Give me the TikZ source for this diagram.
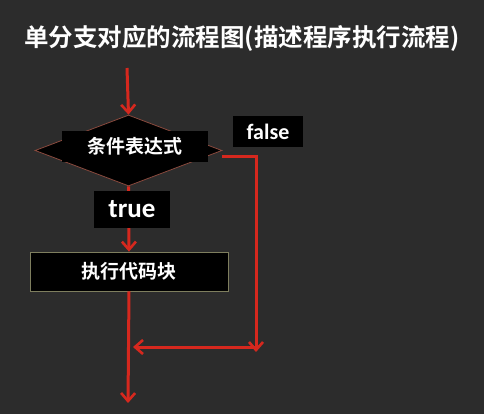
\documentclass[tikz,border=0pt]{standalone}
\usepackage{fontspec}
\setmainfont{Carlito}
\newfontfamily\cjkbold{Noto Sans CJK SC}[BoldFont={Noto Sans CJK SC Bold}]
\usetikzlibrary{shapes.geometric,arrows.meta}
\definecolor{bg}{HTML}{2C2C2C}
\definecolor{redline}{HTML}{D6281E}
\definecolor{diaborder}{HTML}{8A4A3E}
\definecolor{boxborder}{HTML}{7E7E5E}
\tikzset{
  flow/.style={draw=redline, line width=3pt, -{Straight Barb[length=8pt,width=14pt,line width=2.6pt]}},
  lbl/.style={fill=black, text=white, inner sep=0pt},
}
\begin{document}
\begin{tikzpicture}[x=1pt,y=-1pt]
\fill[bg] (0,0) rectangle (484,414);
\useasboundingbox (0,0) rectangle (484,414);
% title
\node[text=white, font=\cjkbold\bfseries\fontsize{24.5}{28}\selectfont] (title) at (242,38) {单分支对应的流程图(描述程序执行流程)};
% shapes
\coordinate (start) at (127,68);
\node[diamond, draw=diaborder, line width=0.8pt, fill=black, minimum width=187pt, minimum height=71pt, inner sep=0pt] (cond) at (128.5,150.5) {};
\node[draw=boxborder, line width=0.8pt, fill=black, minimum width=198pt, minimum height=39pt, inner sep=0pt] (block) at (129,271.5) {};
\coordinate (fstart) at (222,157);
\coordinate (fcorner) at (256,157);
\coordinate (fbottom) at (256,352);
\coordinate (jright) at (256,347);
\coordinate (join) at (133,347);
\coordinate (stop) at (128,403);
% connectors
\draw[flow] (start) -- (cond.north);
\draw[flow] (cond.south) -- (block.north);
\draw[flow] (fstart) -- (fcorner) -- (fbottom);
\draw[flow] (jright) -- (join);
\draw[flow] (block.south) -- (stop);
% labels
\node[lbl, minimum width=146pt, minimum height=31pt, font=\cjkbold\bfseries\fontsize{19}{22}\selectfont] (condlbl) at (135,146.5) {条件表达式};
\node[lbl, minimum width=76pt, minimum height=37pt, font=\bfseries\fontsize{27}{30}\selectfont] (truelbl) at (132,209.5) {true};
\node[lbl, minimum width=70pt, minimum height=31pt, font=\bfseries\fontsize{22}{25}\selectfont] (falselbl) at (268,131.5) {false};
\node[text=white, font=\cjkbold\bfseries\fontsize{19}{22}\selectfont] (blocklbl) at (block.center) {执行代码块};
\end{tikzpicture}
\end{document}
